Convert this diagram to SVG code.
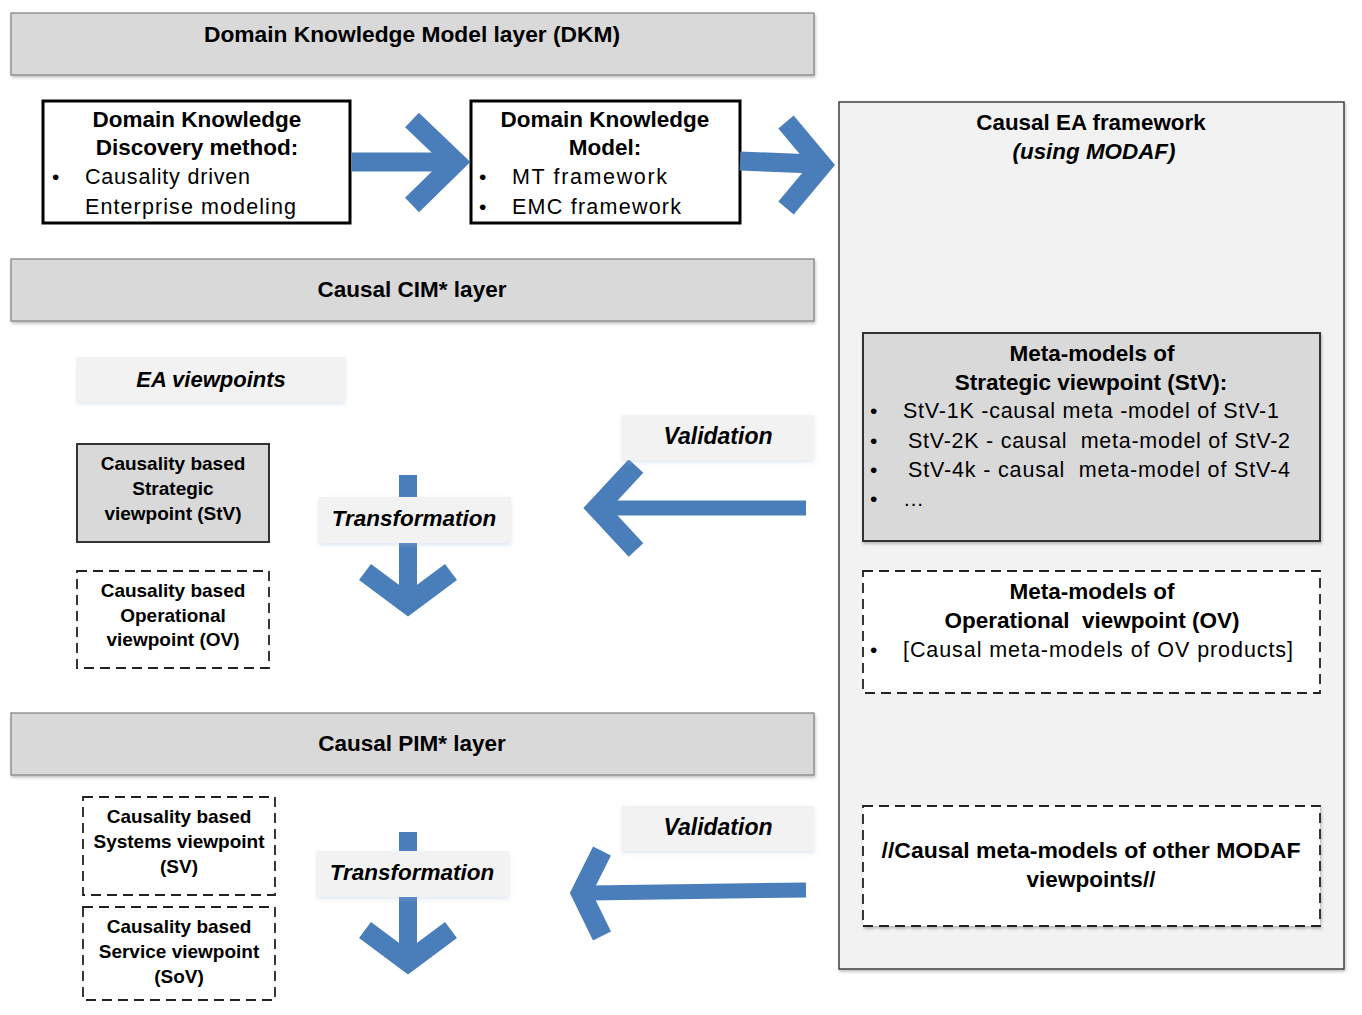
<svg xmlns="http://www.w3.org/2000/svg" width="1362" height="1015" viewBox="0 0 1362 1015">
<defs>
<filter id="sh" x="-5%" y="-10%" width="110%" height="130%">
<feDropShadow dx="1" dy="2" stdDeviation="1.5" flood-color="#000" flood-opacity="0.25"/>
</filter>
<filter id="sh2" x="-5%" y="-10%" width="110%" height="130%">
<feDropShadow dx="0" dy="2" stdDeviation="2" flood-color="#9fb6d8" flood-opacity="0.35"/>
</filter>
</defs>
<style>
text{font-family:"Liberation Sans",Arial,sans-serif;fill:#000}
.b{font-weight:bold}
.bi{font-weight:bold;font-style:italic}
.c{text-anchor:middle}
.bar{fill:#d9d9d9;stroke:#7f7f7f;stroke-width:1.2}
.lab{fill:#f2f2f2;stroke:none}
.solid{fill:#fff;stroke:#000;stroke-width:3}
.grey{fill:#d9d9d9;stroke:#333;stroke-width:2}
.dash{fill:#fff;stroke:#222;stroke-width:1.8;stroke-dasharray:10 6}
.arr{fill:none;stroke:#4a7ebb;stroke-linejoin:miter;stroke-linecap:butt}
</style>
<rect width="1362" height="1015" fill="#fff"/>

<g id="ea-framework">
<rect x="839" y="102" width="505" height="867" fill="#f2f2f2" stroke="#404040" stroke-width="1.5" filter="url(#sh)"/>
<text class="b c" x="1091" y="130" font-size="22.4">Causal EA framework</text>
<text class="bi c" x="1094" y="159" font-size="22.4">(using MODAF)</text>
</g>

<g id="dkm-layer">
<rect class="bar" x="11" y="13" width="803" height="62" filter="url(#sh)"/>
<text class="b c" x="412" y="42" font-size="22.5" textLength="416" lengthAdjust="spacingAndGlyphs">Domain Knowledge Model layer (DKM)</text>
</g>

<g id="dkd-method">
<rect class="solid" x="43" y="101" width="307" height="122"/>
<text class="b c" x="197" y="127" font-size="22.5">Domain Knowledge</text>
<text class="b c" x="197" y="155" font-size="22.5">Discovery method:</text>
<text x="52" y="184" font-size="21">•</text>
<text x="85" y="184" font-size="21.5" textLength="165">Causality driven</text>
<text x="85" y="214" font-size="21.5" textLength="211">Enterprise modeling</text>
</g>

<g id="dk-model">
<rect class="solid" x="471" y="101" width="269" height="122"/>
<text class="b c" x="605" y="127" font-size="22.5">Domain Knowledge</text>
<text class="b c" x="605" y="155" font-size="22.5">Model:</text>
<text x="479" y="184" font-size="21">•</text>
<text x="512" y="184" font-size="21.5" textLength="155">MT framework</text>
<text x="479" y="214" font-size="21">•</text>
<text x="512" y="214" font-size="21.5" textLength="169">EMC framework</text>
</g>

<g id="cim-layer">
<rect class="bar" x="11" y="259" width="803" height="62" filter="url(#sh)"/>
<text class="b c" x="412" y="297" font-size="22.5">Causal CIM* layer</text>
</g>

<g id="ea-viewpoints">
<rect class="lab" x="77" y="357" width="268" height="45" filter="url(#sh2)"/>
<text class="bi c" x="211" y="387" font-size="22">EA viewpoints</text>
</g>

<g id="stv">
<rect class="grey" x="77" y="444" width="192" height="98"/>
<text class="b c" x="173" y="470" font-size="19">Causality based</text>
<text class="b c" x="173" y="495" font-size="19">Strategic</text>
<text class="b c" x="173" y="520" font-size="19">viewpoint (StV)</text>
</g>

<g id="ov">
<rect class="dash" x="77" y="571" width="192" height="97"/>
<text class="b c" x="173" y="597" font-size="19">Causality based</text>
<text class="b c" x="173" y="622" font-size="19">Operational</text>
<text class="b c" x="173" y="646" font-size="19">viewpoint (OV)</text>
</g>

<g id="stv-meta">
<rect class="grey" x="863" y="333" width="457" height="208" filter="url(#sh)"/>
<text class="b c" x="1092" y="361" font-size="22.5">Meta-models of</text>
<text class="b c" x="1091" y="390" font-size="22.5">Strategic viewpoint (StV):</text>
<text x="870" y="418" font-size="21">•</text>
<text x="903" y="418" font-size="21.5" textLength="376">StV-1K -causal meta -model of StV-1</text>
<text x="870" y="448" font-size="21">•</text>
<text x="908" y="448" font-size="21.5" textLength="382" xml:space="preserve">StV-2K - causal  meta-model of StV-2</text>
<text x="870" y="477" font-size="21">•</text>
<text x="908" y="477" font-size="21.5" textLength="382" xml:space="preserve">StV-4k - causal  meta-model of StV-4</text>
<text x="870" y="506" font-size="21">•</text>
<text x="903" y="506" font-size="21">…</text>
</g>

<g id="ov-meta">
<rect class="dash" x="863" y="571" width="457" height="122"/>
<text class="b c" x="1092" y="599" font-size="22.5">Meta-models of</text>
<text class="b c" x="1092" y="628" font-size="22.5" xml:space="preserve">Operational  viewpoint (OV)</text>
<text x="870" y="657" font-size="21">•</text>
<text x="903" y="657" font-size="21.5" textLength="390">[Causal meta-models of OV products]</text>
</g>

<g id="pim-layer">
<rect class="bar" x="11" y="713" width="803" height="62" filter="url(#sh)"/>
<text class="b c" x="412" y="751" font-size="22.5">Causal PIM* layer</text>
</g>

<g id="sv">
<rect class="dash" x="83" y="797" width="192" height="98"/>
<text class="b c" x="179" y="823" font-size="19">Causality based</text>
<text class="b c" x="179" y="848" font-size="19">Systems viewpoint</text>
<text class="b c" x="179" y="873" font-size="19">(SV)</text>
</g>

<g id="sov">
<rect class="dash" x="83" y="907" width="192" height="93"/>
<text class="b c" x="179" y="933" font-size="19">Causality based</text>
<text class="b c" x="179" y="958" font-size="19">Service viewpoint</text>
<text class="b c" x="179" y="983" font-size="19">(SoV)</text>
</g>

<g id="other-meta">
<rect class="dash" x="863" y="806" width="457" height="120" filter="url(#sh)"/>
<text class="b c" x="1091" y="858" font-size="22.5" textLength="419" lengthAdjust="spacingAndGlyphs">//Causal meta-models of other MODAF</text>
<text class="b c" x="1091" y="887" font-size="22.5">viewpoints//</text>
</g>

<g id="connectors">
<line class="arr" x1="352" y1="162" x2="450" y2="162" stroke-width="19"/>
<polyline class="arr" points="412,120 456,162 412,205" stroke-width="20"/>
<line class="arr" x1="740" y1="161" x2="815" y2="164" stroke-width="19"/>
<polyline class="arr" points="786,122 822,165 786,208" stroke-width="20"/>
<line class="arr" x1="408" y1="475" x2="408" y2="600" stroke-width="18"/>
<polyline class="arr" points="365,572 408,604 451,572" stroke-width="20"/>
<line class="arr" x1="806" y1="508" x2="605" y2="508" stroke-width="15"/>
<polyline class="arr" points="636,466 597,508 636,550" stroke-width="20"/>
<line class="arr" x1="408" y1="832" x2="408" y2="958" stroke-width="18"/>
<polyline class="arr" points="365,930 408,962 451,930" stroke-width="20"/>
<line class="arr" x1="806" y1="890" x2="590" y2="893" stroke-width="15"/>
<polyline class="arr" points="602,851 581,893 602,936" stroke-width="20"/>
</g>

<g id="labels">
<rect class="lab" x="319" y="497" width="192" height="46" filter="url(#sh2)"/>
<text class="bi c" x="414" y="526" font-size="22.5">Transformation</text>
<rect class="lab" x="622" y="415" width="192" height="45" filter="url(#sh2)"/>
<text class="bi c" x="718" y="444" font-size="23">Validation</text>
<rect class="lab" x="317" y="851" width="192" height="46" filter="url(#sh2)"/>
<text class="bi c" x="412" y="880" font-size="22.5">Transformation</text>
<rect class="lab" x="622" y="806" width="192" height="45" filter="url(#sh2)"/>
<text class="bi c" x="718" y="835" font-size="23">Validation</text>
</g>
</svg>
